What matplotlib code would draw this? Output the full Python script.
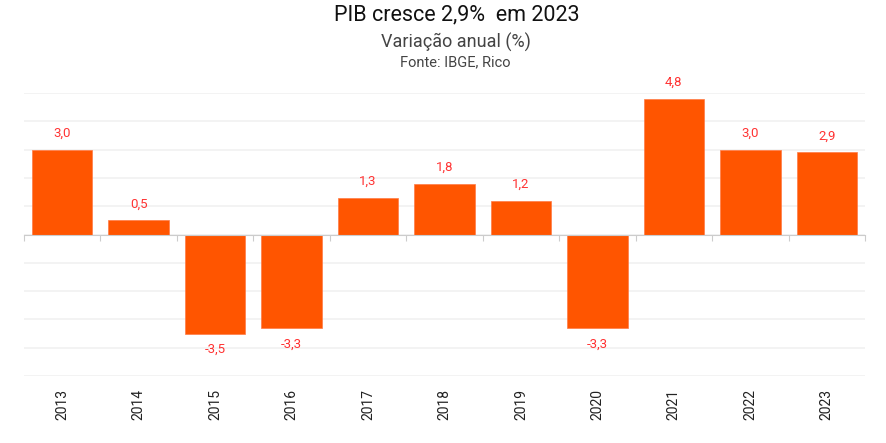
import numpy as np
import matplotlib.pyplot as plt

years = ['2013', '2014', '2015', '2016', '2017', '2018', '2019', '2020', '2021', '2022', '2023']
pib = [3.0, 0.5, -3.5, -3.3, 1.3, 1.8, 1.2, -3.3, 4.8, 3.0, 2.9]
labels = ['3,0', '0,5', '-3,5', '-3,3', '1,3', '1,8', '1,2', '-3,3', '4,8', '3,0', '2,9']

plt.rcParams['font.family'] = ['Roboto', 'DejaVu Sans']

fig = plt.figure(figsize=(8.86, 4.43), dpi=100)
ax = fig.add_axes([0.0271, 0.1512, 0.9492, 0.6388])

x = np.arange(len(years))
ax.bar(x, pib, width=0.79, color='#ff5500', edgecolor='#ff7a45', linewidth=0.5, zorder=3)

# rótulos dos valores
for xi, v, s in zip(x, pib, labels):
    off = 16 if v >= 0 else -16
    ax.annotate(s, (xi, v), xytext=(0, off), textcoords='offset pixels',
                ha='center', va='center', color='#ff3333', fontsize=9.5,
                annotation_clip=False)

ax.set_xlim(-0.5, len(years) - 0.5)
ax.set_ylim(-5, 5)
ax.set_yticks(np.arange(-5, 6, 1))
ax.yaxis.grid(True, color='#f2f2f2', linewidth=1.3, zorder=0)
ax.tick_params(axis='y', length=0, labelleft=False)

for s in ['top', 'right', 'left']:
    ax.spines[s].set_visible(False)
ax.spines['bottom'].set_position(('data', 0))
ax.spines['bottom'].set_color('#cccccc')
ax.spines['bottom'].set_zorder(4)
ax.set_xticks(np.arange(-0.5, len(years), 1))
ax.tick_params(axis='x', length=4, color='#cccccc', labelbottom=False)

sec = ax.secondary_xaxis(0)
sec.set_xticks(x)
sec.set_xticklabels(years, rotation=90, fontsize=10, color='#222222')
sec.tick_params(length=0, pad=9)
sec.spines['bottom'].set_visible(False)

fig.text(0.516, 0.966, 'PIB cresce 2,9%  em 2023', ha='center', va='center', fontsize=15.5, color='#111111')
fig.text(0.515, 0.905, 'Variação anual (%)', ha='center', va='center', fontsize=13, color='#444444')
fig.text(0.514, 0.860, 'Fonte: IBGE, Rico', ha='center', va='center', fontsize=10.5, color='#444444')

fig.savefig('out.png', dpi=100)
